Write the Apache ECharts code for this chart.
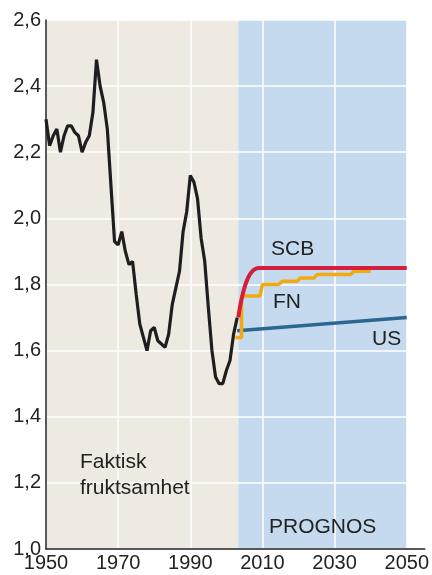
<!DOCTYPE html>
<html>
<head>
<meta charset="utf-8">
<script src="https://cdn.jsdelivr.net/npm/echarts@6/dist/echarts.min.js"></script>
<style>
  html, body { margin: 0; padding: 0; background: #fff; }
  #chart { width: 432px; height: 575px; }
</style>
</head>
<body>
<div id="chart"></div>
<script>
// Faktisk fruktsamhet 1950-2003
const years = []
for (let y = 1950; y <= 2003; y++) years.push(y)
const actual = [
  2.30, 2.22, 2.25, 2.27, 2.20, 2.25, 2.28, 2.28, 2.26, 2.25,
  2.20, 2.23, 2.25, 2.32, 2.48, 2.40, 2.35, 2.27, 2.10, 1.93,
  1.92, 1.96, 1.90, 1.86, 1.87, 1.77, 1.68, 1.64, 1.60, 1.66,
  1.67, 1.63, 1.62, 1.61, 1.65, 1.74, 1.79, 1.84, 1.96, 2.02,
  2.13, 2.11, 2.06, 1.94, 1.87, 1.73, 1.60, 1.52, 1.50, 1.50,
  1.54, 1.57, 1.65, 1.70
]

// Prognoser
const scb = [[2003.3, 1.70], [2004, 1.745], [2005, 1.79], [2006, 1.82], [2007, 1.838], [2008, 1.847], [2009, 1.85], [2050, 1.85]]
const fn = [
  [2002.5, 1.64], [2004.2, 1.64], [2004.2, 1.765], [2009.3, 1.765], [2010, 1.80],
  [2014.5, 1.80], [2015.5, 1.81], [2019.6, 1.81], [2020.6, 1.82], [2024.3, 1.82],
  [2025.2, 1.83], [2034.4, 1.83], [2035.4, 1.84], [2040, 1.84]
]
const us = [[2003, 1.66], [2050, 1.70]]

const prognosStart = 2003.3
const xTicks = [1950, 1970, 1990, 2010, 2030, 2050]

const font = "'Liberation Sans', Arial, sans-serif"
const chart = echarts.init(document.getElementById("chart"), null, { renderer: "canvas" })

const label = (text, left, top) => ({
  type: "text", left, top, z: 100,
  style: { text, font: "21px " + font, fill: "#222", lineHeight: 26 }
})

const option = {
  animation: false,
  grid: { left: 46, right: 7, top: 20, bottom: 26, containLabel: false },
  xAxis: {
    type: "value",
    min: 1950,
    max: 2055,
    interval: 20,
    z: 3,
    axisLine: { show: true, lineStyle: { color: "#222", width: 1.5 } },
    axisTick: { show: false },
    splitLine: { show: true, lineStyle: { color: "#fff", width: 1.5 } },
    axisLabel: {
      color: "#222", fontSize: 20, fontFamily: font, margin: 4,
      showMaxLabel: false,
      formatter: (v) => (xTicks.includes(v) ? String(v) : "")
    }
  },
  yAxis: {
    type: "value",
    min: 1.0,
    max: 2.6,
    interval: 0.2,
    z: 3,
    axisLine: { show: true, lineStyle: { color: "#222", width: 1.5 } },
    axisTick: { show: false },
    splitLine: { show: true, lineStyle: { color: "#fff", width: 1.5 } },
    axisLabel: {
      color: "#222", fontSize: 20, fontFamily: font, margin: 5,
      formatter: (v) => v.toFixed(1).replace(".", ",")
    }
  },
  series: [
    {
      type: "line",
      data: [],
      z: 1,
      markArea: {
        z: 1,
        silent: true,
        data: [
          [{ xAxis: 1950, itemStyle: { color: "#efeae1" } }, { xAxis: prognosStart }],
          [{ xAxis: prognosStart, itemStyle: { color: "#c6daef" } }, { xAxis: 2050 }]
        ]
      }
    },
    {
      name: "US",
      type: "line",
      z: 5,
      data: us,
      showSymbol: false,
      lineStyle: { color: "#2a6890", width: 3.5 }
    },
    {
      name: "FN",
      type: "line",
      z: 5,
      data: fn,
      showSymbol: false,
      lineStyle: { color: "#f2aa10", width: 3.5 }
    },
    {
      name: "Faktisk",
      type: "line",
      z: 5,
      data: years.map((y, i) => [y, actual[i]]),
      showSymbol: false,
      lineStyle: { color: "#1e1e1e", width: 3.2 }
    },
    {
      name: "SCB",
      type: "line",
      z: 6,
      smooth: 0.3,
      data: scb,
      showSymbol: false,
      lineStyle: { color: "#d2203c", width: 4 }
    }
  ],
  graphic: {
    elements: [
      label("SCB", 271, 236),
      label("FN", 273, 289),
      label("US", 372, 326),
      label("Faktisk\nfruktsamhet", 80, 449),
      label("PROGNOS", 269, 514)
    ]
  }
}

chart.setOption(option)
</script>
</body>
</html>
